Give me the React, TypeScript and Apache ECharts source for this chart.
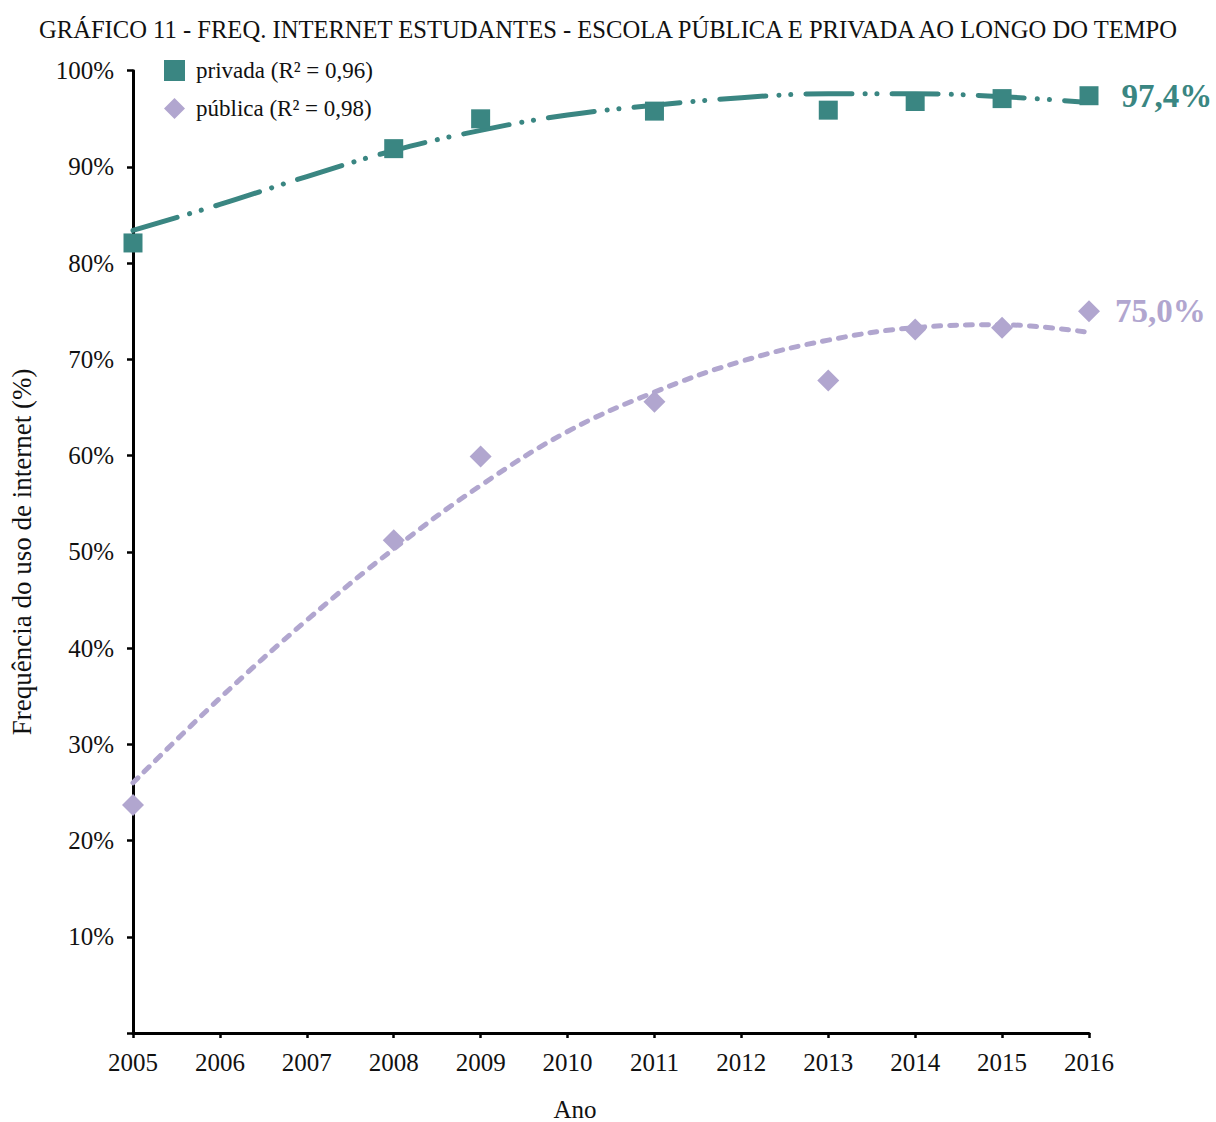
import React, { useEffect, useRef } from "react";
import * as echarts from "echarts";

// Observed points per year (percent of students using the internet)
const years = [2005, 2008, 2009, 2011, 2013, 2014, 2015, 2016];
const privada = [82.1, 91.9, 95.0, 95.8, 95.9, 96.8, 97.1, 97.4];
const publica = [23.7, 51.2, 59.9, 65.6, 67.8, 73.1, 73.3, 75.0];

// Fitted trend curves, sampled once per year
const trendYears = [2005, 2006, 2007, 2008, 2009, 2010, 2011, 2012, 2013, 2014, 2015, 2016];
const privadaTrend = [83.4, 86.1, 89.0, 91.7, 93.8, 95.4, 96.4, 97.2, 97.6, 97.6, 97.3, 96.7];
const publicaTrend = [26.0, 34.8, 42.9, 50.3, 56.9, 62.5, 66.6, 69.8, 72.0, 73.3, 73.6, 72.8];

const seriesNames = ["privada", "pública"];
const r2Values = ["0,96", "0,98"];

const TITLE = "GRÁFICO 11 - FREQ. INTERNET ESTUDANTES - ESCOLA PÚBLICA E PRIVADA AO LONGO DO TEMPO";
const X_NAME = "Ano";
const Y_NAME = "Frequência do uso de internet (%)";

const TEAL = "#3a8682";
const LAVENDER = "#b1a6cf";
const FONT = "'Liberation Serif', 'Times New Roman', serif";
const INK = "#111111";

const pairs = (xs: number[], ys: number[]) => xs.map((x, i) => [x, ys[i]]);

const pctLabel = (v: number) => v.toFixed(1).replace(".", ",") + "%";

export default function App() {
  const ref = useRef<HTMLDivElement>(null);

  useEffect(() => {
    if (!ref.current) return;
    const chart = echarts.init(ref.current, undefined, { renderer: "svg" });
    const lastIdx = years.length - 1;

    const endLabel = (color: string, distance: number) => ({
      show: true,
      position: "right",
      distance,
      formatter: (p: any) => (p.dataIndex === lastIdx ? pctLabel(p.value[1]) : ""),
      color,
      fontFamily: FONT,
      fontWeight: "bold",
      fontSize: 33,
    });

    chart.setOption({
      animation: false,
      backgroundColor: "#ffffff",
      title: {
        text: TITLE,
        left: "center",
        top: 12,
        textStyle: { fontFamily: FONT, fontSize: 24.6, fontWeight: "normal", color: INK },
      },
      legend: {
        data: [
          { name: seriesNames[0], icon: "rect", itemStyle: { color: TEAL } },
          { name: seriesNames[1], icon: "diamond", itemStyle: { color: LAVENDER } },
        ],
        orient: "vertical",
        left: 164,
        top: 59,
        padding: 0,
        itemGap: 15,
        itemWidth: 21,
        itemHeight: 21,
        formatter: (name: string) => `${name} (R² = ${r2Values[seriesNames.indexOf(name)]})`,
        textStyle: { fontFamily: FONT, fontSize: 23, color: INK, padding: [0, 0, 0, 6] },
      },
      grid: { left: 130, right: 127, top: 70.7, bottom: 89, containLabel: false },
      xAxis: {
        type: "value",
        min: 2005,
        max: 2016,
        interval: 1,
        splitLine: { show: false },
        axisLine: { show: true, lineStyle: { color: "#000", width: 3 } },
        axisTick: { show: true, length: 5, lineStyle: { color: "#000", width: 2.5 } },
        axisLabel: {
          formatter: (v: number) => String(v),
          margin: 17,
          fontFamily: FONT,
          fontSize: 25,
          color: INK,
        },
      },
      yAxis: {
        type: "value",
        min: 0,
        max: 100,
        interval: 10,
        splitLine: { show: false },
        name: Y_NAME,
        nameLocation: "middle",
        nameGap: 98,
        nameRotate: 90,
        nameTextStyle: { fontFamily: FONT, fontSize: 27, color: INK },
        axisLine: { show: true, lineStyle: { color: "#000", width: 3 } },
        axisTick: { show: true, length: 6, lineStyle: { color: "#000", width: 2.5 } },
        axisLabel: {
          formatter: (v: number) => (v === 0 ? "" : `${v}%`),
          margin: 19,
          fontFamily: FONT,
          fontSize: 25,
          color: INK,
        },
      },
      graphic: [
        {
          type: "text",
          x: 575,
          y: 1109,
          style: {
            text: X_NAME,
            fontFamily: FONT,
            fontSize: 25,
            fill: INK,
            textAlign: "center",
            textVerticalAlign: "middle",
          },
        },
      ],
      series: [
        {
          name: "privada-tendencia",
          type: "line",
          data: pairs(trendYears, privadaTrend),
          smooth: 0.4,
          showSymbol: false,
          silent: true,
          z: 2,
          lineStyle: {
            color: TEAL,
            width: 5,
            cap: "round",
            type: [46, 13, 0.1, 12, 0.1, 15],
          },
        },
        {
          name: "pública-tendencia",
          type: "line",
          data: pairs(trendYears, publicaTrend),
          smooth: 0.4,
          showSymbol: false,
          silent: true,
          z: 2,
          lineStyle: { color: LAVENDER, width: 5, cap: "round", type: [7, 9] },
        },
        {
          name: seriesNames[0],
          type: "scatter",
          symbol: "rect",
          symbolSize: 19,
          itemStyle: { color: TEAL, opacity: 1 },
          data: pairs(years, privada),
          clip: false,
          z: 3,
          label: endLabel(TEAL, 23),
        },
        {
          name: seriesNames[1],
          type: "scatter",
          symbol: "diamond",
          symbolSize: 22,
          itemStyle: { color: LAVENDER, opacity: 1 },
          data: pairs(years, publica),
          clip: false,
          z: 3,
          label: endLabel(LAVENDER, 15),
        },
      ],
    });

    return () => chart.dispose();
  }, []);

  return (
    <div
      ref={ref}
      style={{ position: "absolute", left: 0, top: 0, width: 1216, height: 1122, background: "#fff" }}
    />
  );
}
